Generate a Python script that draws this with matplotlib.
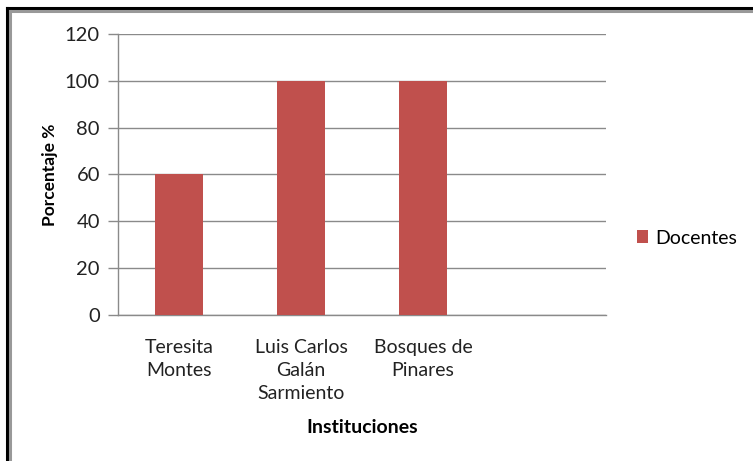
import matplotlib
matplotlib.use("Agg")
import matplotlib.pyplot as plt
from matplotlib.lines import Line2D

plt.rcParams['font.family'] = ['Lato', 'DejaVu Sans']

# Datos
instituciones = ['Teresita\nMontes', 'Luis Carlos\nGalán\nSarmiento', 'Bosques de\nPinares', '']
docentes = [60, 100, 100]
yticks = [0, 20, 40, 60, 80, 100, 120]

W, H = 753, 461
fig = plt.figure(figsize=(W / 100, H / 100), dpi=100)
ax = fig.add_axes([118 / W, 1 - 315 / H, (606 - 118) / W, (315 - 34) / H])

x = list(range(len(docentes)))
ax.bar(x, docentes, width=0.4, color='#C0504D', label='Docentes', zorder=3)

ax.set_xlim(-0.5, len(instituciones) - 0.5)
ax.set_ylim(0, 120)
ax.set_yticks(yticks)
ax.set_xticks(range(len(instituciones)))
ax.set_xticklabels(instituciones, fontsize=14, color='#222222', linespacing=1.45)
ax.tick_params(axis='x', length=0, pad=17)
ax.tick_params(axis='y', length=7, width=1, color='#8a8a8a', labelsize=14.5,
               labelcolor='#222222', pad=6)
ax.yaxis.grid(True, color='#8a8a8a', linewidth=1, zorder=0)
for s in ['top', 'right']:
    ax.spines[s].set_visible(False)
for s in ['left', 'bottom']:
    ax.spines[s].set_color('#8a8a8a')
    ax.spines[s].set_linewidth(1)

ax.set_ylabel('Porcentaje %', fontsize=12.5, fontweight='bold', labelpad=5)
ax.set_xlabel('Instituciones', fontsize=14, fontweight='bold', labelpad=12)

ax.legend(loc='center left', frameon=False, fontsize=14, handlelength=0.6,
          handleheight=0.6, handletextpad=0.35,
          bbox_to_anchor=(619 / W, 1 - 238 / H), bbox_transform=fig.transFigure)

# borde del grafico
fig.add_artist(Line2D([7 / W, 7 / W], [0, 1 - 8 / H], color='black', lw=2.2))
fig.add_artist(Line2D([7 / W, 1], [1 - 8 / H, 1 - 8 / H], color='black', lw=2.2))
fig.add_artist(Line2D([9.5 / W, 9.5 / W], [0, 1 - 11 / H], color='#999999', lw=2.2))
fig.add_artist(Line2D([9.5 / W, 1], [1 - 11 / H, 1 - 11 / H], color='#999999', lw=2.2))

fig.savefig('out.png', dpi=100)
